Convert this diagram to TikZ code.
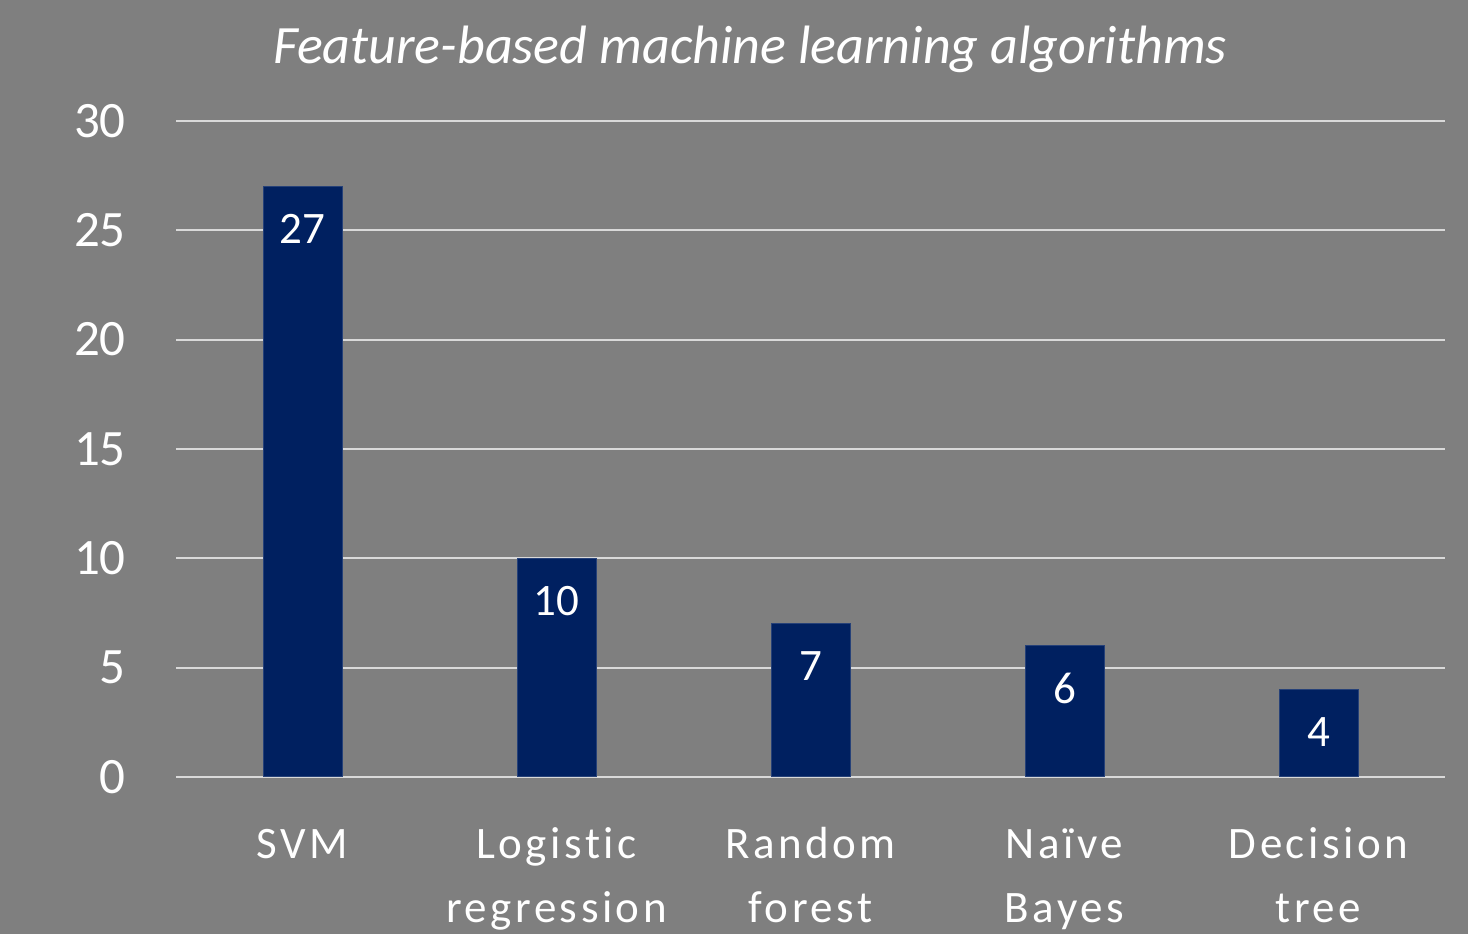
\documentclass[tikz,border=0pt]{standalone}
\usepackage{fontspec}
\setmainfont{Carlito}
\newfontfamily\catfont[LetterSpace=7.8,Ligatures=NoCommon]{Carlito}
\definecolor{chartbg}{HTML}{7F7F7F}
\definecolor{barblue}{HTML}{002060}
\definecolor{gridgray}{HTML}{D9D9D9}
\begin{document}
\begin{tikzpicture}[x=1pt,y=-1pt,
  gridline/.style={draw=gridgray,line width=2pt},
  barbox/.style={fill=barblue,draw=barblue!85!white,line width=0.6pt,inner sep=0pt,minimum width=79pt,anchor=south},
  ticklab/.style={text=white,inner sep=0pt,anchor=east,font=\fontsize{51}{60}\selectfont},
  vallab/.style={text=white,inner sep=0pt,font=\fontsize{45}{54}\selectfont},
  catlab/.style={text=white,inner sep=0pt,anchor=base,font=\catfont\fontsize{45}{54}\selectfont},
  titlelab/.style={text=white,inner sep=0pt,anchor=base,font=\fontsize{54}{64}\selectfont\itshape}]
  % background and canvas
  \fill[chartbg] (0,0) rectangle (1468,934);
  \useasboundingbox (0,0) rectangle (1468,934);

  % title
  \node[titlelab] (title) at (750,64) {Feature-based machine learning algorithms};

  % horizontal grid lines with axis labels
  \foreach \v in {0,5,...,30}{
    \coordinate (gl\v) at (176,{777-21.87*\v});
    \coordinate (gr\v) at (1445,{777-21.87*\v});
    \draw[gridline] (gl\v) -- (gr\v);
    \node[ticklab] (tick\v) at (126,{777-21.87*\v}) {\v};
  }

  % bars with value labels
  \foreach \i/\x/\val in {1/302.5/27,2/556.5/10,3/810.5/7,4/1064.5/6,5/1318.5/4}{
    \node[barbox,minimum height={21.87*\val}] (bar\i) at (\x,777) {};
    \node[vallab] (val\i) at ([yshift=-43pt]bar\i.north) {\val};
  }

  % category labels
  \node[catlab] (cat1a) at (302.5,858) {SVM};
  \node[catlab] (cat2a) at (556.5,858) {Logistic};
  \node[catlab] (cat2b) at (556.5,922) {regression};
  \node[catlab] (cat3a) at (810.5,858) {Random};
  \node[catlab] (cat3b) at (810.5,922) {forest};
  \node[catlab] (cat4a) at (1064.5,858) {Naïve};
  \node[catlab] (cat4b) at (1064.5,922) {Bayes};
  \node[catlab] (cat5a) at (1318.5,858) {Decision};
  \node[catlab] (cat5b) at (1318.5,922) {tree};
\end{tikzpicture}
\end{document}
